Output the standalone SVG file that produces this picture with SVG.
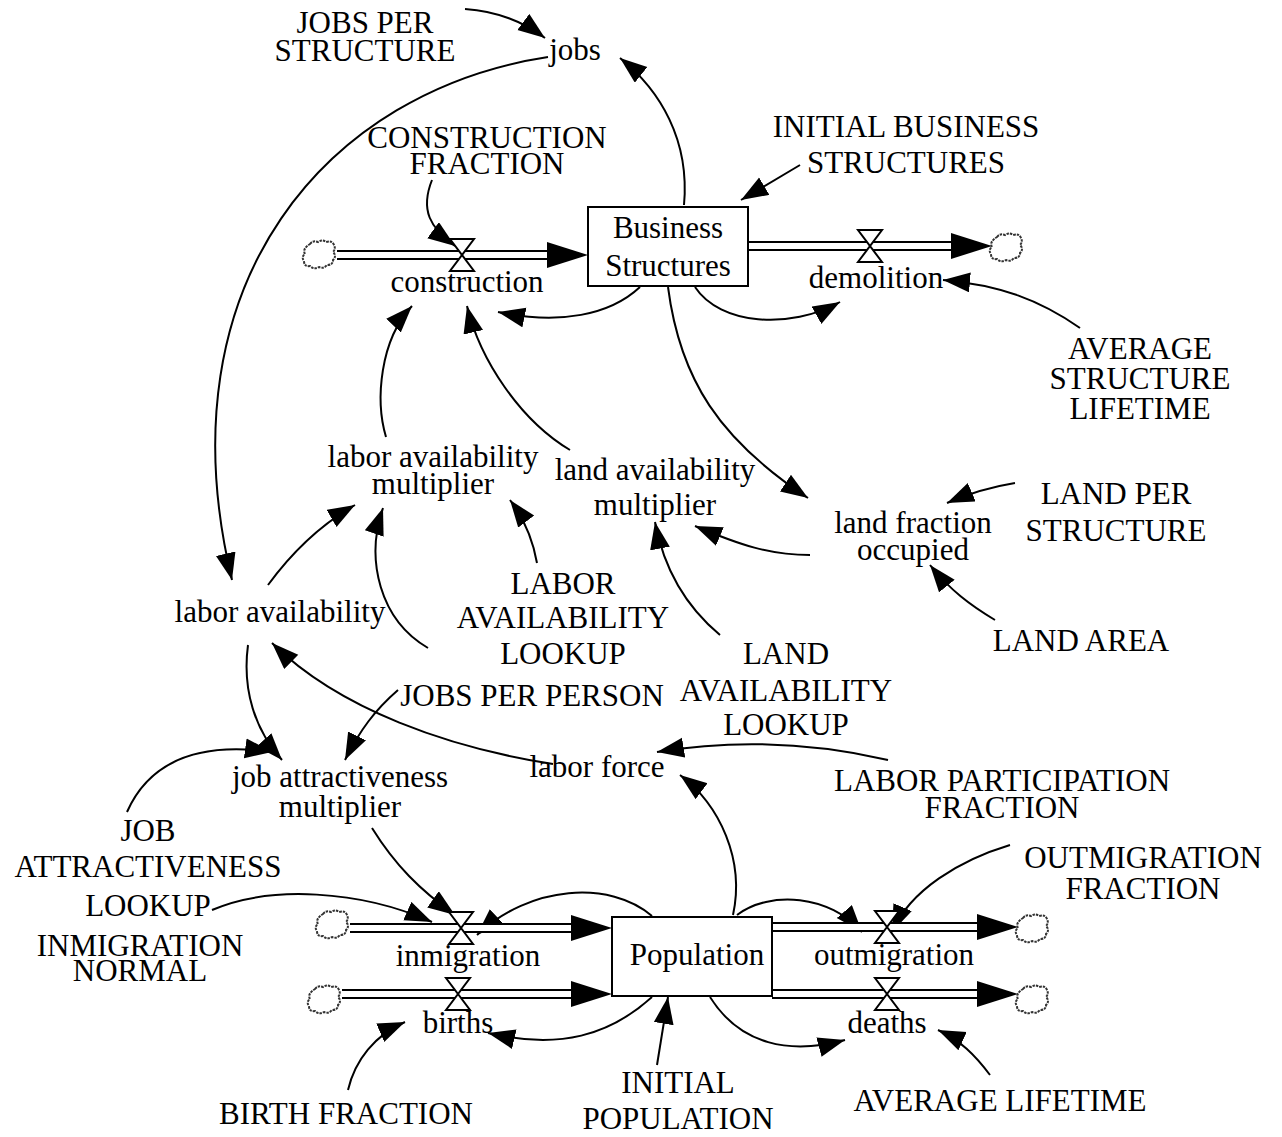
<svg xmlns="http://www.w3.org/2000/svg" width="1282" height="1137" viewBox="0 0 1282 1137">
<defs>
<style>
text{font-family:"Liberation Serif","Times New Roman",serif;font-size:31px;text-anchor:middle;fill:#000}
.c{fill:none;stroke:#000;stroke-width:2;marker-end:url(#ah)}
.pipeo{stroke:#000;stroke-width:10;fill:none}
.pipei{stroke:#fff;stroke-width:6;fill:none}
.box{fill:#fff;stroke:#000;stroke-width:2}
.valve{fill:#fff;stroke:#000;stroke-width:2;stroke-linejoin:miter}
.cloud{fill:#fff;stroke:#333;stroke-width:2;stroke-dasharray:2.5 1}
</style>
<marker id="ah" markerUnits="userSpaceOnUse" markerWidth="30" markerHeight="22" refX="27" refY="10" orient="auto" viewBox="0 0 30 22">
<path d="M0,0 L27,10 L0,20 z" fill="#000"/>
</marker>
<path id="cl" class="cloud" d="M-11,-11 q3,-4 8,-2 q4,-3 8,0 q6,-2 8,3 q2,4 -1,7 q4,4 0,8 q0,5 -6,5 q-3,4 -8,2 q-5,3 -9,-1 q-6,1 -6,-5 q-3,-4 1,-7 q-3,-5 5,-10 z"/>
<path id="ph" d="M-41,-13 L0,0 L-41,13 z" fill="#000"/>
<path id="vv" class="valve" d="M-12,-16 L12,-16 L-12,16 L12,16 z"/>
</defs>

<g id="connectors">
<path class="c" d="M465,9 Q510,12 545,38"/>
<path class="c" d="M548,57 C330,90 160,280 232,580"/>
<path class="c" d="M684,205 C690,140 660,90 620,58"/>
<path class="c" d="M432,180 C420,210 430,228 455,246"/>
<path class="c" d="M800,165 L741,200"/>
<path class="c" d="M640,287 C610,315 560,325 498,312"/>
<path class="c" d="M695,287 C720,325 790,330 840,302"/>
<path class="c" d="M1080,328 C1040,300 1000,285 943,280"/>
<path class="c" d="M668,287 C680,380 720,440 808,498"/>
<path class="c" d="M386,437 C375,400 380,340 412,306"/>
<path class="c" d="M570,450 C520,420 480,360 467,306"/>
<path class="c" d="M810,555 C770,555 740,545 695,526"/>
<path class="c" d="M1015,483 C990,487 970,493 947,503"/>
<path class="c" d="M995,620 C970,605 950,590 930,565"/>
<path class="c" d="M720,635 C690,610 665,575 655,522"/>
<path class="c" d="M537,563 C533,540 525,520 510,500"/>
<path class="c" d="M268,585 C290,555 320,525 355,505"/>
<path class="c" d="M428,648 C380,620 365,560 383,508"/>
<path class="c" d="M553,764 C450,748 340,710 272,643"/>
<path class="c" d="M248,645 C242,690 255,730 282,760"/>
<path class="c" d="M398,690 C375,710 360,730 345,760"/>
<path class="c" d="M127,812 C150,760 200,742 272,752"/>
<path class="c" d="M372,828 C395,865 420,890 455,915"/>
<path class="c" d="M212,910 C270,885 360,890 432,922"/>
<path class="c" d="M652,916 C610,880 530,885 477,935"/>
<path class="c" d="M733,915 C745,860 720,805 680,775"/>
<path class="c" d="M888,760 C810,742 730,740 657,752"/>
<path class="c" d="M737,915 C770,890 830,895 862,932"/>
<path class="c" d="M1010,845 C960,860 910,890 892,932"/>
<path class="c" d="M652,997 C610,1035 560,1050 488,1033"/>
<path class="c" d="M348,1090 C355,1060 375,1035 405,1022"/>
<path class="c" d="M657,1065 L668,997"/>
<path class="c" d="M710,997 C740,1045 790,1055 845,1040"/>
<path class="c" d="M990,1075 C975,1055 960,1040 938,1030"/>
</g>

<g id="flows">
<g id="flow-construction">
<path class="pipeo" d="M337,255 H550"/><path class="pipei" d="M337,255 H552"/>
<use href="#ph" x="588" y="255"/>
<use href="#cl" x="321" y="255"/>
<use href="#vv" x="462" y="255"/>
<text x="467" y="292">construction</text>
</g>
<g id="flow-demolition">
<path class="pipeo" d="M748,246 H955"/><path class="pipei" d="M747,246 H957"/>
<use href="#ph" x="992" y="246"/>
<use href="#cl" x="1008" y="248"/>
<use href="#vv" x="870" y="246"/>
<text x="876" y="288">demolition</text>
</g>
<g id="flow-inmigration">
<path class="pipeo" d="M350,928 H575"/><path class="pipei" d="M350,928 H577"/>
<use href="#ph" x="612" y="928"/>
<use href="#cl" x="334" y="925"/>
<use href="#vv" x="461" y="928"/>
<text x="468" y="966">inmigration</text>
</g>
<g id="flow-births">
<path class="pipeo" d="M342,994 H575"/><path class="pipei" d="M342,994 H577"/>
<use href="#ph" x="612" y="994"/>
<use href="#cl" x="326" y="1000"/>
<use href="#vv" x="458" y="994"/>
<text x="458" y="1033">births</text>
</g>
<g id="flow-outmigration">
<path class="pipeo" d="M772,927 H982"/><path class="pipei" d="M771,927 H984"/>
<use href="#ph" x="1018" y="927"/>
<use href="#cl" x="1034" y="929"/>
<use href="#vv" x="887" y="927"/>
<text x="894" y="965">outmigration</text>
</g>
<g id="flow-deaths">
<path class="pipeo" d="M772,994 H982"/><path class="pipei" d="M771,994 H984"/>
<use href="#ph" x="1018" y="994"/>
<use href="#cl" x="1034" y="1000"/>
<use href="#vv" x="887" y="994"/>
<text x="887" y="1033">deaths</text>
</g>
</g>

<g id="business-structures">
<rect class="box" x="588" y="207" width="160" height="79"/>
<text x="668" y="238">Business</text>
<text x="668" y="276">Structures</text>
</g>
<g id="population">
<rect class="box" x="612" y="917" width="160" height="79"/>
<text x="697" y="965">Population</text>
</g>

<g id="jobs-per-structure"><text x="365" y="33">JOBS PER</text><text x="365" y="61">STRUCTURE</text></g>
<g id="jobs"><text x="575" y="60">jobs</text></g>
<g id="construction-fraction"><text x="487" y="148">CONSTRUCTION</text><text x="487" y="174">FRACTION</text></g>
<g id="initial-business-structures"><text x="906" y="137">INITIAL BUSINESS</text><text x="906" y="173">STRUCTURES</text></g>
<g id="average-structure-lifetime"><text x="1140" y="359">AVERAGE</text><text x="1140" y="389">STRUCTURE</text><text x="1140" y="419">LIFETIME</text></g>
<g id="labor-availability-multiplier"><text x="433" y="467">labor availability</text><text x="433" y="494">multiplier</text></g>
<g id="land-availability-multiplier"><text x="655" y="480">land availability</text><text x="655" y="515">multiplier</text></g>
<g id="land-fraction-occupied"><text x="913" y="533">land fraction</text><text x="913" y="560">occupied</text></g>
<g id="land-per-structure"><text x="1116" y="504">LAND PER</text><text x="1116" y="541">STRUCTURE</text></g>
<g id="labor-availability"><text x="280" y="622">labor availability</text></g>
<g id="labor-availability-lookup"><text x="563" y="594">LABOR</text><text x="563" y="628">AVAILABILITY</text><text x="563" y="664">LOOKUP</text></g>
<g id="land-area"><text x="1081" y="651">LAND AREA</text></g>
<g id="land-availability-lookup"><text x="786" y="664">LAND</text><text x="786" y="701">AVAILABILITY</text><text x="786" y="735">LOOKUP</text></g>
<g id="jobs-per-person"><text x="532" y="706">JOBS PER PERSON</text></g>
<g id="job-attractiveness-multiplier"><text x="340" y="787">job attractiveness</text><text x="340" y="817">multiplier</text></g>
<g id="labor-force"><text x="597" y="777">labor force</text></g>
<g id="labor-participation-fraction"><text x="1002" y="791">LABOR PARTICIPATION</text><text x="1002" y="818">FRACTION</text></g>
<g id="job-attractiveness-lookup"><text x="148" y="841">JOB</text><text x="148" y="877">ATTRACTIVENESS</text><text x="148" y="916">LOOKUP</text></g>
<g id="outmigration-fraction"><text x="1143" y="868">OUTMIGRATION</text><text x="1143" y="899">FRACTION</text></g>
<g id="inmigration-normal"><text x="140" y="956">INMIGRATION</text><text x="140" y="981">NORMAL</text></g>
<g id="initial-population"><text x="678" y="1093">INITIAL</text><text x="678" y="1129">POPULATION</text></g>
<g id="birth-fraction"><text x="346" y="1124">BIRTH FRACTION</text></g>
<g id="average-lifetime"><text x="1000" y="1111">AVERAGE LIFETIME</text></g>
</svg>
